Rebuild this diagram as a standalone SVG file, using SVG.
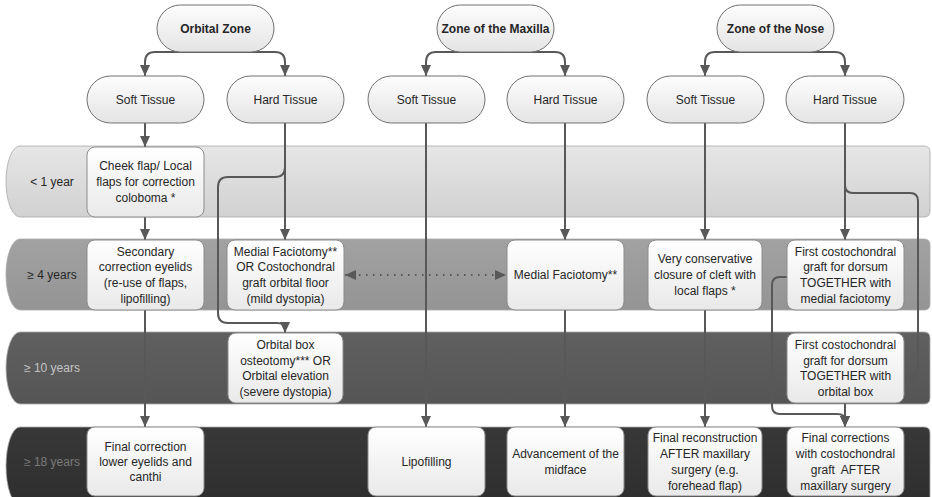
<svg xmlns="http://www.w3.org/2000/svg" width="932" height="497" viewBox="0 0 932 497">
<defs>
<linearGradient id="gNode" x1="0" y1="0" x2="0" y2="1"><stop offset="0" stop-color="#fdfdfd"/><stop offset="1" stop-color="#e4e4e4"/></linearGradient>
<linearGradient id="gBox" x1="0" y1="0" x2="0" y2="1"><stop offset="0" stop-color="#ffffff"/><stop offset="1" stop-color="#e9e9e9"/></linearGradient>
<linearGradient id="gB1" x1="0" y1="0" x2="0" y2="1"><stop offset="0" stop-color="#e6e6e6"/><stop offset="1" stop-color="#d1d1d1"/></linearGradient>
<linearGradient id="gB2" x1="0" y1="0" x2="0" y2="1"><stop offset="0" stop-color="#a2a2a2"/><stop offset="1" stop-color="#949494"/></linearGradient>
<linearGradient id="gB3" x1="0" y1="0" x2="0" y2="1"><stop offset="0" stop-color="#606060"/><stop offset="1" stop-color="#555555"/></linearGradient>
<linearGradient id="gB4" x1="0" y1="0" x2="0" y2="1"><stop offset="0" stop-color="#383838"/><stop offset="1" stop-color="#2e2e2e"/></linearGradient>
<marker id="ah" viewBox="0 0 11 10" refX="11" refY="5" markerWidth="11" markerHeight="10" markerUnits="userSpaceOnUse" orient="auto-start-reverse"><path d="M0,0 L11,5 L0,10 z" fill="#585858"/></marker>
</defs>
<style>
text{font-family:"Liberation Sans",Arial,sans-serif;font-size:12px;fill:#262626;text-anchor:middle}
.b{font-weight:bold}
.pill{fill:url(#gNode);stroke:#707070;stroke-width:1}
.box{fill:url(#gBox);stroke:#8c8c8c;stroke-width:1}
.band{stroke:#a8a8a8;stroke-width:0.8}
.c{fill:none;stroke:#585858;stroke-width:2;marker-end:url(#ah)}
.dot{fill:none;stroke:#585858;stroke-width:2;stroke-dasharray:1.5 5.5;marker-start:url(#ah);marker-end:url(#ah)}
.l3{fill:#c4c4c4}
.l4{fill:#7a7a7a}
</style>
<rect width="932" height="497" fill="#ffffff"/>
<g id="band-1year">
<path class="band" fill="url(#gB1)" d="M20 146 H924 Q930 146 930 152 V211 Q930 217 924 217 H20 A14 35.5 0 0 1 20 146 Z"/>
<text x="52" y="186">&lt; 1 year</text>
</g>
<g id="band-4years">
<path class="band" fill="url(#gB2)" d="M20 239 H924 Q930 239 930 245 V304 Q930 310 924 310 H20 A14 35.5 0 0 1 20 239 Z"/>
<text x="52" y="279">≥ 4 years</text>
</g>
<g id="band-10years">
<path class="band" fill="url(#gB3)" d="M20 332 H924 Q930 332 930 338 V398 Q930 404 924 404 H20 A14 36 0 0 1 20 332 Z"/>
<text class="l3" x="52" y="372">≥ 10 years</text>
</g>
<g id="band-18years">
<path class="band" fill="url(#gB4)" d="M20 427 H924 Q930 427 930 433 V505 H20 A14 39 0 0 1 20 427 Z"/>
<text class="l4" x="52" y="466">≥ 18 years</text>
</g>
<g id="connectors">
<path class="c" d="M215 52 H155 Q145 52 145 62 V76"/>
<path class="c" d="M215 52 H275 Q285 52 285 62 V76"/>
<path class="c" d="M495 52 H436 Q426 52 426 62 V76"/>
<path class="c" d="M495 52 H555 Q565 52 565 62 V76"/>
<path class="c" d="M775 52 H715 Q705 52 705 62 V76"/>
<path class="c" d="M775 52 H835 Q845 52 845 62 V76"/>
<path class="c" d="M145 123 V147"/>
<path class="c" d="M145 217 V240"/>
<path class="c" d="M145 310 V427"/>
<path class="c" d="M285 123 V240"/>
<path class="c" d="M285 123 V167 Q285 177 275 177 H228 Q218 177 218 187 V313 Q218 323 228 323 H277 Q285 323 285 329 V333"/>
<path class="c" d="M426 123 V427"/>
<path class="c" d="M565 123 V240"/>
<path class="c" d="M565 310 V427"/>
<path class="c" d="M705 123 V240"/>
<path class="c" d="M705 310 V427"/>
<path class="c" d="M845 123 V240"/>
<path class="c" d="M845 123 V185 Q845 193 853 193 H910 Q918 193 918 201 V362 C918 372 914 378 906 382"/>
<path class="c" d="M787 277 H780 Q772 277 772 285 V406 Q772 414 780 414 H837 Q845 414 845 420 V427"/>
<path class="c" d="M845 403 V427"/>
<path class="dot" d="M345 275 H506"/>
</g>
<g id="orbital-zone"><rect class="pill" x="157" y="5" width="117" height="47" rx="23.5"/><text class="b" x="215.5" y="33">Orbital Zone</text></g>
<g id="maxilla-zone"><rect class="pill" x="437" y="5" width="117" height="47" rx="23.5"/><text class="b" x="495.5" y="33">Zone of the Maxilla</text></g>
<g id="nose-zone"><rect class="pill" x="717" y="5" width="117" height="47" rx="23.5"/><text class="b" x="775.5" y="33">Zone of the Nose</text></g>
<g id="orbital-soft"><rect class="pill" x="87" y="76" width="117" height="47" rx="23.5"/><text x="145.5" y="104">Soft Tissue</text></g>
<g id="orbital-hard"><rect class="pill" x="227" y="76" width="117" height="47" rx="23.5"/><text x="285.5" y="104">Hard Tissue</text></g>
<g id="maxilla-soft"><rect class="pill" x="368" y="76" width="117" height="47" rx="23.5"/><text x="426.5" y="104">Soft Tissue</text></g>
<g id="maxilla-hard"><rect class="pill" x="507" y="76" width="117" height="47" rx="23.5"/><text x="565.5" y="104">Hard Tissue</text></g>
<g id="nose-soft"><rect class="pill" x="647" y="76" width="117" height="47" rx="23.5"/><text x="705.5" y="104">Soft Tissue</text></g>
<g id="nose-hard"><rect class="pill" x="786" y="76" width="118" height="47" rx="23.5"/><text x="845" y="104">Hard Tissue</text></g>
<g id="cheek-flap"><rect class="box" x="87" y="147" width="117" height="70" rx="8"/><text x="145.5" y="169.5"><tspan x="145.5">Cheek flap/ Local</tspan><tspan x="145.5" dy="16.2">flaps for correction</tspan><tspan x="145.5" dy="16.2">coloboma *</tspan></text></g>
<g id="secondary-correction"><rect class="box" x="87" y="240" width="117" height="70" rx="8"/><text x="145.5" y="255.5"><tspan x="145.5">Secondary</tspan><tspan x="145.5" dy="15.7">correction eyelids</tspan><tspan x="145.5" dy="15.7">(re-use of flaps,</tspan><tspan x="145.5" dy="15.7">lipofilling)</tspan></text></g>
<g id="medial-costochondral"><rect class="box" x="227" y="240" width="117" height="70" rx="8"/><text x="285.5" y="255.5"><tspan x="285.5">Medial Faciotomy**</tspan><tspan x="285.5" dy="15.7">OR Costochondral</tspan><tspan x="285.5" dy="15.7">graft orbital floor</tspan><tspan x="285.5" dy="15.7">(mild dystopia)</tspan></text></g>
<g id="medial-faciotomy"><rect class="box" x="507" y="240" width="117" height="70" rx="8"/><text x="565.5" y="279">Medial Faciotomy**</text></g>
<g id="conservative-closure"><rect class="box" x="648" y="240" width="114" height="70" rx="8"/><text x="705" y="262.7"><tspan x="705">Very conservative</tspan><tspan x="705" dy="16">closure of cleft with</tspan><tspan x="705" dy="16">local flaps *</tspan></text></g>
<g id="first-graft-faciotomy"><rect class="box" x="787" y="240" width="117" height="70" rx="8"/><text x="845.5" y="255.5"><tspan x="845.5">First costochondral</tspan><tspan x="845.5" dy="15.7">graft for dorsum</tspan><tspan x="845.5" dy="15.7">TOGETHER with</tspan><tspan x="845.5" dy="15.7">medial faciotomy</tspan></text></g>
<g id="orbital-box"><rect class="box" x="228" y="333" width="115" height="70" rx="8"/><text x="285.5" y="349"><tspan x="285.5">Orbital box</tspan><tspan x="285.5" dy="15.6">osteotomy*** OR</tspan><tspan x="285.5" dy="15.6">Orbital elevation</tspan><tspan x="285.5" dy="15.6">(severe dystopia)</tspan></text></g>
<g id="first-graft-orbital"><rect class="box" x="787" y="333" width="117" height="70" rx="8"/><text x="845.5" y="349"><tspan x="845.5">First costochondral</tspan><tspan x="845.5" dy="15.6">graft for dorsum</tspan><tspan x="845.5" dy="15.6">TOGETHER with</tspan><tspan x="845.5" dy="15.6">orbital box</tspan></text></g>
<g id="final-eyelids"><rect class="box" x="87" y="427" width="117" height="69" rx="8"/><text x="145.5" y="450.7"><tspan x="145.5">Final correction</tspan><tspan x="145.5" dy="15">lower eyelids and</tspan><tspan x="145.5" dy="15">canthi</tspan></text></g>
<g id="lipofilling"><rect class="box" x="368" y="427" width="117" height="69" rx="8"/><text x="426.5" y="466">Lipofilling</text></g>
<g id="advancement"><rect class="box" x="507" y="427" width="117" height="69" rx="8"/><text x="565.5" y="458"><tspan x="565.5">Advancement of the</tspan><tspan x="565.5" dy="16">midface</tspan></text></g>
<g id="final-reconstruction"><rect class="box" x="648" y="427" width="114" height="69" rx="8"/><text x="705" y="442"><tspan x="705">Final reconstruction</tspan><tspan x="705" dy="16">AFTER maxillary</tspan><tspan x="705" dy="16">surgery (e.g.</tspan><tspan x="705" dy="16">forehead flap)</tspan></text></g>
<g id="final-corrections"><rect class="box" x="787" y="427" width="117" height="69" rx="8"/><text x="845.5" y="442"><tspan x="845.5">Final corrections</tspan><tspan x="845.5" dy="16">with costochondral</tspan><tspan x="845.5" dy="16">graft&#160; AFTER</tspan><tspan x="845.5" dy="16">maxillary surgery</tspan></text></g>
</svg>
